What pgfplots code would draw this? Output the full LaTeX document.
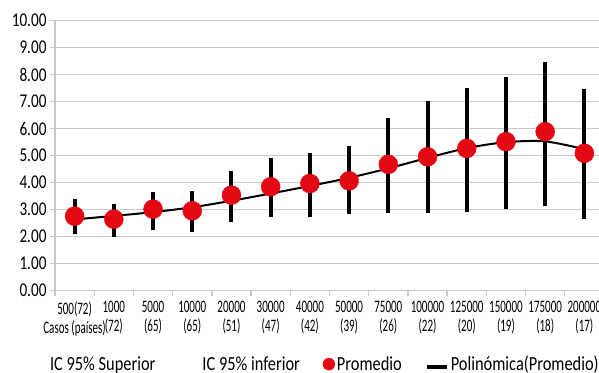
\documentclass[border=0pt]{standalone}
\usepackage{fontspec}
\setmainfont{Carlito}
\newfontfamily\ylabfont[FakeStretch=0.78]{Carlito}
\newfontfamily\xlabfont[FakeStretch=0.63]{Carlito}
\newfontfamily\legfont[FakeStretch=0.82]{Carlito}
\usepackage{pgfplots}
\pgfplotsset{compat=1.18}
\usepackage{pgfplotstable}
\definecolor{gridgray}{RGB}{200,200,200}
\definecolor{dotred}{RGB}{227,6,19}
\pgfplotsset{
  dotleg/.style={legend image code/.code={\draw[##1, mark size=6bp] plot coordinates {(10bp,0bp)};}},
  lineleg/.style={legend image code/.code={\draw[##1] (0bp,-3bp) -- (20bp,-3bp);}},
}

\pgfplotstableread{
x lo m hi t
0 2.10 2.76 3.38 2.64
1 2.00 2.65 3.21 2.77
2 2.25 3.02 3.64 2.91
3 2.19 2.96 3.69 3.09
4 2.53 3.54 4.43 3.33
5 2.72 3.85 4.93 3.60
6 2.72 3.97 5.10 3.88
7 2.83 4.07 5.35 4.18
8 2.87 4.68 6.39 4.53
9 2.87 4.96 7.03 4.92
10 2.93 5.27 7.52 5.28
11 3.01 5.52 7.92 5.50
12 3.14 5.89 8.48 5.53
13 2.64 5.09 7.48 5.24
}\datatable

\begin{document}
\begin{tikzpicture}
\begin{axis}[
  at={(55bp,82.3bp)}, anchor=south west,
  scale only axis, width=549bp, height=270bp,
  xmin=-0.5, xmax=13.5, ymin=0, ymax=10,
  axis x line*=bottom, axis y line*=left,
  axis line style={gridgray, line width=1.3bp},
  ytick={0,1,...,10},
  ymajorgrids, grid style={gridgray, line width=1.3bp},
  xtick={0,...,13},
  xticklabels={{500(72)\\Casos (países)},{1000\\(72)},{5000\\(65)},{10000\\(65)},{20000\\(51)},{30000\\(47)},{40000\\(42)},{50000\\(39)},{75000\\(26)},{100000\\(22)},{125000\\(20)},{150000\\(19)},{175000\\(18)},{200000\\(17)}},
  minor xtick={-0.5,0.5,...,13.5},
  major x tick style={draw=none},
  minor x tick style={gridgray, line width=1.3bp},
  major y tick style={gridgray, line width=1.3bp},
  tick align=outside,
  major tick length=5bp, minor tick length=5bp,
  /pgf/number format/assume math mode=true,
  yticklabel style={font=\ylabfont\fontsize{19.5bp}{20bp}\selectfont, /pgf/number format/fixed, /pgf/number format/fixed zerofill, /pgf/number format/precision=2},
  xticklabel style={font=\xlabfont\fontsize{17.5bp}{19bp}\selectfont, align=center, yshift=-2bp},
  legend cell align=left,
  legend columns=4,
  legend style={at={(-0.0528,-0.272)}, anchor=west, draw=none, fill=none, inner sep=0pt, outer sep=0pt,
    nodes={inner sep=2bp}, font=\legfont\fontsize{20bp}{22bp}\selectfont,
    /tikz/every even column/.append style={column sep=21bp}},
]
\addplot[only marks, mark=none, black, forget plot,
  error bars/.cd, y dir=both, y explicit, error mark=none,
  error bar style={line width=4bp, black}]
  table[x=x, y=m, y error plus expr=\thisrow{hi}-\thisrow{m}, y error minus expr=\thisrow{m}-\thisrow{lo}] \datatable;
\addplot[black, line width=2bp, smooth, mark=none, forget plot] table[x=x, y=t] \datatable;
\addlegendimage{empty legend}
\addlegendentry{\hspace*{22bp}IC 95\% Superior}
\addlegendimage{empty legend}
\addlegendentry{\hspace*{22bp}IC 95\% inferior}
\addplot[only marks, mark=*, mark size=9.5bp, dotred, mark options={draw=dotred, fill=dotred}, dotleg] table[x=x, y=m] \datatable;
\addlegendentry{Promedio}
\addlegendimage{black, line width=4bp, lineleg}
\addlegendentry{Polinómica(Promedio)}
\end{axis}
\pgfresetboundingbox
\useasboundingbox (0,0) rectangle (599bp,373bp);
\end{tikzpicture}
\end{document}
